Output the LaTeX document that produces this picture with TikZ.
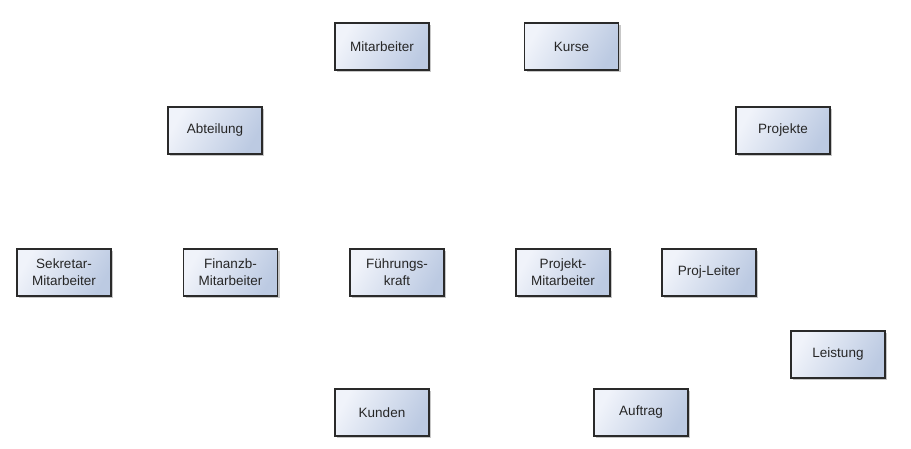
\documentclass[tikz,border=0pt]{standalone}
\usepackage{fontspec}
\setmainfont{Liberation Sans}
\usetikzlibrary{shadows}
\definecolor{boxlight}{HTML}{F0F3FA}
\definecolor{boxdark}{HTML}{BCCAE2}
\definecolor{boxline}{HTML}{2A2A2A}
\tikzset{
  entity/.style={draw=boxline, line width=1.2pt, minimum width=94pt, minimum height=47pt,
    inner sep=0pt, align=center, font=\fontsize{13.5}{17}\selectfont, text=black!85,
    shading=axis, left color=boxlight, right color=boxdark, shading angle=60,
    drop shadow={shadow xshift=2pt, shadow yshift=-2pt, fill=black, opacity=0.22}}
}
\begin{document}
\begin{tikzpicture}[x=1pt,y=-1pt]
\useasboundingbox (0,0) rectangle (911,449);
\node[entity] (mitarbeiter) at (382,46.5) {Mitarbeiter};
\node[entity] (kurse) at (571.5,46.5) {Kurse};
\node[entity] (abteilung) at (215,130.5) {Abteilung};
\node[entity] (projekte) at (783,130.5) {Projekte};
\node[entity] (sekretar) at (64,272.5) {Sekretar-\\Mitarbeiter};
\node[entity] (finanzb) at (230.5,272.5) {Finanzb-\\Mitarbeiter};
\node[entity] (fuehrung) at (397,272.5) {Führungs-\\kraft};
\node[entity] (projma) at (563,272.5) {Projekt-\\Mitarbeiter};
\node[entity] (projleiter) at (709,272.5) {Proj-Leiter};
\node[entity] (leistung) at (838,354.5) {Leistung};
\node[entity] (kunden) at (382,412.5) {Kunden};
\node[entity] (auftrag) at (641,412.5) {Auftrag};
\end{tikzpicture}
\end{document}
